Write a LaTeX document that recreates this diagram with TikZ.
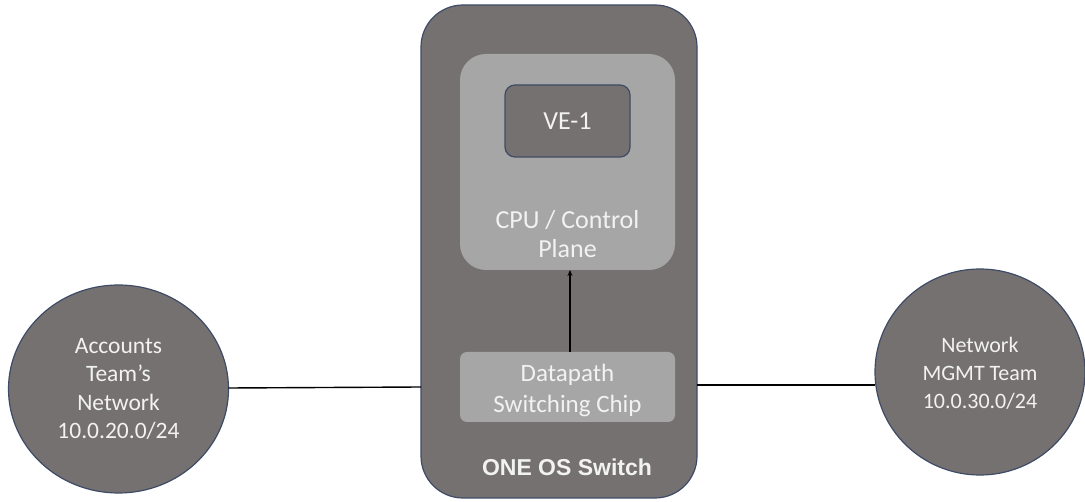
\documentclass[tikz,border=0pt]{standalone}
\usepackage{fontspec}
\setmainfont{Carlito}
\newfontfamily\labelbold{Liberation Sans}
\usetikzlibrary{arrows.meta}
\definecolor{boxgray}{HTML}{767171}
\definecolor{panelgray}{HTML}{A6A6A6}
\definecolor{edgeblue}{HTML}{3E4B66}
\definecolor{txt}{HTML}{F2F2F2}
\tikzset{
  x=1pt, y=-1pt,
  lbl/.style={text=txt, align=center, font=\fontsize{22}{28}\selectfont},
  wire/.style={line width=1.4pt, black},
}
\begin{document}
\begin{tikzpicture}
\useasboundingbox (0,0) rectangle (1085,502);
% switch chassis
\draw[draw=edgeblue, line width=1.2pt, fill=boxgray, rounded corners=42pt]
  (421,5) rectangle (697,498);
\coordinate (swL) at (421,387);
\coordinate (swR) at (697,385);
% control plane
\fill[panelgray, rounded corners=26pt] (460,54) rectangle (675,270);
\node[lbl, font=\fontsize{26}{29}\selectfont] (cpu) at (567.5,234) {CPU / Control\\Plane};
\coordinate (cpuB) at (570,270);
% virtual environment
\draw[draw=edgeblue, line width=1.2pt, fill=boxgray, rounded corners=10pt]
  (505,85) rectangle (630,157);
\node[lbl, font=\fontsize{26}{28}\selectfont] (ve) at (567.5,121) {VE-1};
% switching chip
\fill[panelgray, rounded corners=7pt] (460,352) rectangle (675,422);
\node[lbl, font=\fontsize{25}{31}\selectfont] (chip) at (567.5,390) {Datapath\\Switching Chip};
\coordinate (chipT) at (570,352);
\draw[line width=1.6pt, -{Stealth[length=6pt,width=5pt]}] (chipT) -- (cpuB);
\node[text=txt, font=\labelbold\bfseries\fontsize{23}{26}\selectfont] (sw) at (567,467) {ONE OS Switch};
% networks
\draw[draw=edgeblue, line width=1.2pt, fill=boxgray] (118.5,389) ellipse [x radius=110, y radius=104];
\node[lbl, font=\fontsize{23.5}{28.5}\selectfont] (acct) at (118.5,389) {Accounts\\Team’s\\Network\\10.0.20.0/24};
\coordinate (acctR) at (228.5,388);
\draw[draw=edgeblue, line width=1.2pt, fill=boxgray] (980,372) ellipse [x radius=105, y radius=103];
\node[lbl] (mgmt) at (980,373) {Network\\MGMT Team\\10.0.30.0/24};
\coordinate (mgmtL) at (875,385);
\draw[wire] (acctR) -- (swL);
\draw[wire] (swR) -- (mgmtL);
\end{tikzpicture}
\end{document}
